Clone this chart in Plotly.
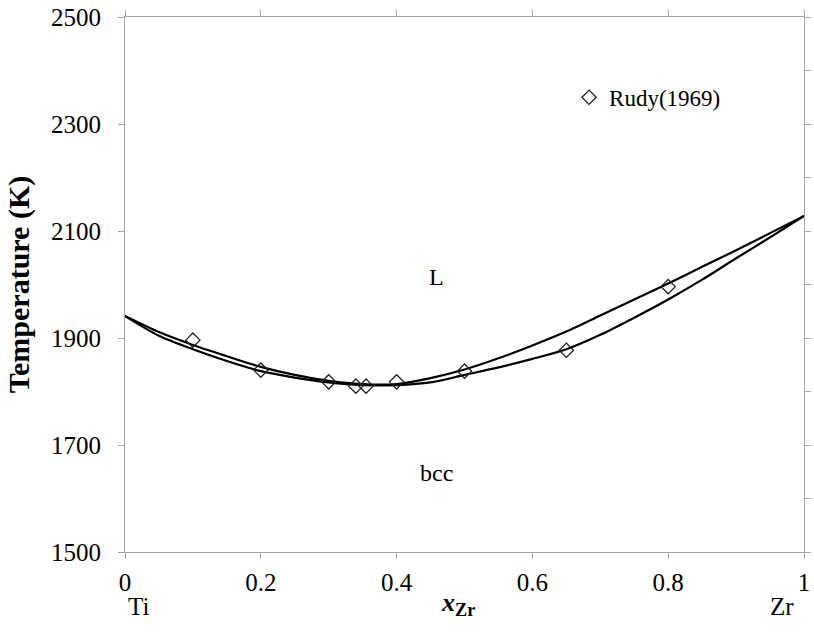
import plotly.graph_objects as go

# Composition grid (mole fraction Zr) for the calculated phase boundaries
x_curve = [0, 0.05, 0.1, 0.15, 0.2, 0.25, 0.3, 0.35, 0.4, 0.45, 0.5,
           0.55, 0.6, 0.65, 0.7, 0.75, 0.8, 0.85, 0.9, 0.95, 1.0]
liquidus = [1941, 1911, 1887, 1866, 1846, 1831, 1820, 1814, 1814, 1825, 1841,
            1862, 1886, 1912, 1942, 1972, 2002, 2033, 2064, 2096, 2128]
solidus = [1941, 1904, 1879, 1857, 1838, 1826, 1817, 1812, 1812, 1817, 1831,
           1845, 1861, 1879, 1906, 1938, 1972, 2009, 2049, 2088, 2128]

# Experimental data, Rudy (1969)
x_exp = [0.1, 0.2, 0.3, 0.34, 0.355, 0.4, 0.5, 0.65, 0.8]
t_exp = [1896, 1840, 1818, 1810, 1810, 1818, 1838, 1877, 1996]

y_ticks = [1500, 1700, 1900, 2100, 2300, 2500]
x_ticks = [0, 0.2, 0.4, 0.6, 0.8, 1]
x_ticklabels = ["0", "0.2", "0.4", "0.6", "0.8", "1"]

FONT = "Liberation Serif, Times New Roman, serif"
AX = "#a6a6a6"

fig = go.Figure()
fig.add_trace(go.Scatter(x=x_curve, y=liquidus, mode="lines", showlegend=False,
                         line=dict(color="black", width=2.2, shape="spline", smoothing=0.8)))
fig.add_trace(go.Scatter(x=x_curve, y=solidus, mode="lines", showlegend=False,
                         line=dict(color="black", width=2.2, shape="spline", smoothing=0.8)))
fig.add_trace(go.Scatter(x=x_exp, y=t_exp, mode="markers", name="Rudy(1969)",
                         marker=dict(symbol="diamond-open", size=11, color="#222",
                                     line=dict(width=1.3, color="#222"))))
# invisible trace for right axis
fig.add_trace(go.Scatter(x=[0], y=[1500], yaxis="y2", mode="markers", showlegend=False,
                         marker=dict(opacity=0), hoverinfo="skip"))

fig.update_layout(
    width=814, height=644,
    margin=dict(l=125, r=10, t=17, b=92),
    plot_bgcolor="white", paper_bgcolor="white",
    font=dict(family=FONT, size=24, color="black"),
    xaxis=dict(range=[0, 1], tickvals=x_ticks, ticktext=x_ticklabels, automargin=False,
               showgrid=False, zeroline=False, showline=True, linecolor=AX, linewidth=1,
               ticks="outside", ticklen=6, tickcolor=AX, mirror="ticks",
               ticklabelstandoff=2, tickfont=dict(size=25)),
    yaxis=dict(range=[1500, 2500], tickvals=y_ticks, automargin=False,
               showgrid=False, zeroline=False, showline=True, linecolor=AX, linewidth=1,
               ticks="outside", ticklen=6, tickcolor=AX,
               ticklabelstandoff=12, tickfont=dict(size=25),
               title=dict(text="<b>Temperature (K)</b>", font=dict(size=30), standoff=12)),
    yaxis2=dict(range=[1500, 2500], overlaying="y", side="right", dtick=100, tick0=1500,
                automargin=False,
                showgrid=False, zeroline=False, showline=True, linecolor=AX, linewidth=1,
                ticks="outside", ticklen=6, tickcolor=AX, showticklabels=False),
    legend=dict(x=0.654, y=0.85, xanchor="left", yanchor="middle",
                bgcolor="rgba(0,0,0,0)", font=dict(size=23), itemwidth=30),
    annotations=[
        dict(text="L", x=0.459, y=2014, xref="x", yref="y", showarrow=False, font=dict(size=24)),
        dict(text="bcc", x=0.459, y=1648, xref="x", yref="y", showarrow=False, font=dict(size=24)),
        dict(text="Ti", x=0, y=-0.13, xref="paper", yref="paper", showarrow=False,
             xshift=1, font=dict(size=25)),
        dict(text="Zr", x=1, y=-0.13, xref="paper", yref="paper", showarrow=False,
             xshift=-8, font=dict(size=25)),
        dict(text="<b><i>x</i><sub>Zr</sub></b>", x=0.49, y=-0.13, xref="paper", yref="paper",
             showarrow=False, font=dict(size=26)),
    ],
)

fig.write_html("out.html")
